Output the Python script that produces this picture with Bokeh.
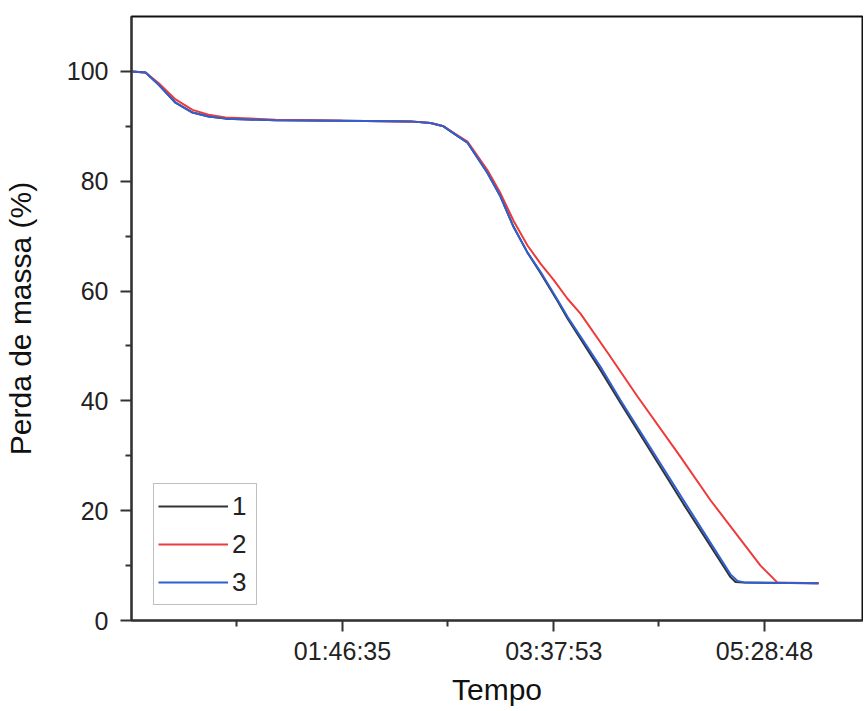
from bokeh.plotting import figure
from bokeh.models import Range1d, FixedTicker, Legend, LegendItem
from bokeh.embed import file_html
from bokeh.resources import INLINE

# time in seconds, mass in %
t1 = [-270, 170, 581, 1118, 1655, 2161, 2698, 4278, 6395, 8544, 9176, 9587, 9966, 10345,
      10977, 11388, 11799, 12241, 12652, 13189, 13505, 14548, 15180, 17171, 18656, 18814,
      19067, 21437]
m1 = [100.0, 99.8, 97.6, 94.3, 92.5, 91.8, 91.4, 91.1, 91.0, 90.9, 90.6, 90.0, 88.5, 87.0,
      81.5, 77.2, 71.7, 67.0, 63.3, 58.2, 55.0, 45.6, 39.6, 21.2, 7.9, 7.0,
      6.9, 6.8]

t2 = [-270, 170, 581, 1118, 1655, 2161, 2698, 4278, 6395, 8544, 9176, 9587, 9966, 10345,
      10977, 11388, 11799, 12241, 12652, 13073, 13505, 13916, 14769, 15717, 17076, 18024,
      19604, 20141, 21437]
m2 = [100.0, 99.8, 97.9, 94.9, 93.0, 92.1, 91.6, 91.2, 91.0, 90.9, 90.6, 90.0, 88.6, 87.2,
      82.0, 77.8, 72.8, 68.3, 65.0, 62.0, 58.6, 55.9, 48.8, 40.8, 29.8, 21.9,
      10.0, 6.9, 6.8]

t3 = [-270, 170, 581, 1118, 1655, 2161, 2698, 4278, 6395, 8544, 9176, 9587, 9966, 10345,
      10977, 11388, 11799, 12241, 12652, 13189, 13505, 14548, 15180, 17171, 18656, 18877,
      19130, 21437]
m3 = [100.0, 99.8, 97.6, 94.3, 92.5, 91.8, 91.4, 91.1, 91.0, 90.9, 90.6, 90.0, 88.5, 87.0,
      81.5, 77.2, 71.7, 67.0, 63.5, 58.4, 55.3, 46.2, 40.1, 21.9, 8.4, 7.2,
      6.9, 6.8]

series_names = ["1", "2", "3"]
series_colors = ["#333333", "#EE3A3A", "#2F5FD0"]

x_major = [6395, 13073, 19728]
x_minor = [3046, 9713, 16381]
y_major = [0, 20, 40, 60, 80, 100]
y_minor = [10, 30, 50, 70, 90]


def hms(s):
    return "%02d:%02d:%02d" % (s // 3600, (s % 3600) // 60, s % 60)


FONT = "Liberation Sans"

p = figure(width=863, height=709, output_backend="svg", toolbar_location=None,
           x_range=Range1d(-273, 22827), y_range=Range1d(0, 110),
           min_border_left=131, min_border_right=1, min_border_top=16, min_border_bottom=89)
p.xgrid.visible = False
p.ygrid.visible = False
p.outline_line_color = "#111111"
p.outline_line_width = 2

rs = []
for t, m, c in zip([t1, t2, t3], [m1, m2, m3], series_colors):
    rs.append(p.line(t, m, line_color=c, line_width=2))

p.xaxis.ticker = FixedTicker(ticks=x_major, minor_ticks=x_minor)
p.xaxis.major_label_overrides = {v: hms(v) for v in x_major}
p.yaxis.ticker = FixedTicker(ticks=y_major, minor_ticks=y_minor)

for ax in (p.xaxis[0], p.yaxis[0]):
    ax.axis_line_color = "#333333"
    ax.axis_line_width = 2
    ax.major_tick_line_color = "#333333"
    ax.minor_tick_line_color = "#333333"
    ax.major_tick_line_width = 2
    ax.minor_tick_line_width = 2
    ax.major_tick_in = 0
    ax.major_tick_out = 11
    ax.minor_tick_in = 0
    ax.minor_tick_out = 6
    ax.major_label_text_font = FONT
    ax.major_label_text_font_size = "25px"
    ax.major_label_text_color = "#222222"
    ax.axis_label_text_font = FONT
    ax.axis_label_text_font_size = "30px"
    ax.axis_label_text_font_style = "normal"
    ax.axis_label_text_color = "#111111"

p.xaxis.axis_label = "Tempo"
p.yaxis.axis_label = "Perda de massa (%)"
p.xaxis.major_label_standoff = 5
p.yaxis.major_label_standoff = 12
p.xaxis.axis_label_standoff = 5
p.yaxis.axis_label_standoff = 27

legend = Legend(items=[LegendItem(label=n, renderers=[r]) for n, r in zip(series_names, rs)],
                location=(22, 15))
legend.label_text_font = FONT
legend.label_text_font_size = "26px"
legend.label_text_color = "#222222"
legend.glyph_width = 70
legend.glyph_height = 36
legend.label_height = 36
legend.label_standoff = 4
legend.spacing = 2
legend.padding = 4
legend.margin = 0
legend.border_line_color = "#808080"
legend.border_line_width = 1
legend.background_fill_color = "white"
legend.background_fill_alpha = 1
p.add_layout(legend, "center")

open("out.html", "w").write(file_html(p, INLINE))
